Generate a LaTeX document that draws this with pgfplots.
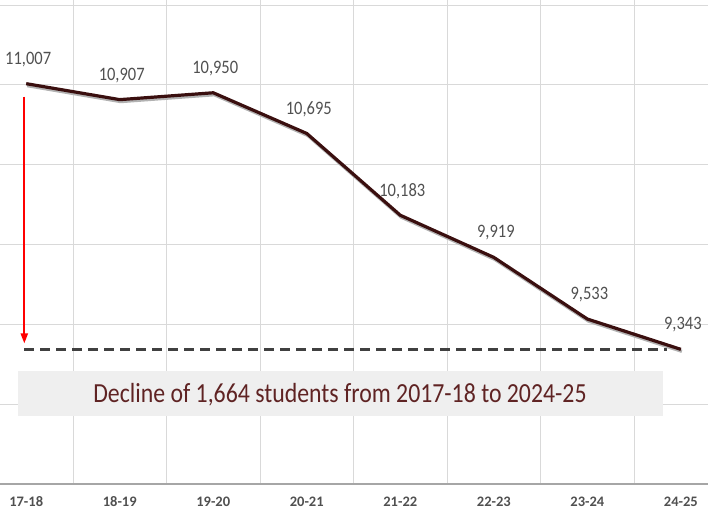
\documentclass[border=0pt]{standalone}
\usepackage{pgfplots}
\pgfplotsset{compat=1.18}
\usepackage{graphicx}
\usepackage{fontspec}
\setmainfont{Carlito}
\usetikzlibrary{arrows.meta}
\definecolor{gridc}{HTML}{D9D9D9}
\definecolor{axc}{HTML}{A6A6A6}
\definecolor{linec}{HTML}{3A0F0F}
\definecolor{labc}{HTML}{505050}
\definecolor{boxc}{HTML}{EFEFEF}
\definecolor{dashc}{HTML}{404040}
\definecolor{txtc}{RGB}{95,35,35}
\pgfplotstableread{
x y lab
0 11007 11,007
1 10907 10,907
2 10950 10,950
3 10695 10,695
4 10183 10,183
5 9919 9,919
6 9533 9,533
7 9343 9,343
}\enroll
\begin{document}
\begin{tikzpicture}
\begin{axis}[name=ax,
 width=708pt, height=484pt, scale only axis,
 xmin=-0.28, xmax=7.29, ymin=8500, ymax=11531,
 axis lines*=left,
 x axis line style={draw=axc, line width=1.2pt},
 y axis line style={draw=none},
 xtick={0,...,7},
 xticklabels={17-18,18-19,19-20,20-21,21-22,22-23,23-24,24-25},
 minor xtick={0.5,1.5,...,6.5},
 ytick={8500,9000,...,11500},
 ymajorticks=false,
 major tick length=0pt, minor tick length=0pt,
 xmajorgrids=false, xminorgrids=true, ymajorgrids=true,
 grid style={gridc, line width=0.8pt},
 minor grid style={gridc, line width=0.8pt},
 xticklabel style={anchor=center, yshift=-18pt, text=labc, font=\bfseries\fontsize{14.5}{16}\selectfont},
 xticklabel={\scalebox{1}[1.1]{\tick}},
 xticklabels={17-18,18-19,19-20,20-21,21-22,22-23,23-24,24-25},
 clip=false,
]
\fill[boxc] (axis cs:-0.085,8925) rectangle (axis cs:6.806,9206);
\node[anchor=base, text=txtc, font=\fontsize{23.8}{26}\selectfont] at (axis cs:3.355,9012) {\scalebox{1}[1.16]{Decline of 1,664 students from 2017-18 to 2024-25}};
\addplot[dashc, line width=3pt, dash pattern=on 10pt off 6pt, forget plot] coordinates {(-0.02,9343) (6.85,9343)};
\addplot[red, line width=2pt, -{Triangle[length=10pt,width=7pt]}, forget plot] coordinates {(-0.02,10926) (-0.02,9380)};
\addplot[black!30, line width=3.2pt, line join=round, forget plot, transform canvas={xshift=1pt, yshift=-2pt}] table[x=x, y=y] {\enroll};
\addplot[linec, line width=3.2pt, line join=round,
  nodes near coords={\scalebox{1}[1.15]{\pgfplotspointmeta}},
  point meta=explicit symbolic,
  every node near coord/.style={anchor=center, yshift=24.5pt, xshift=2pt, text=labc, font=\fontsize{16.5}{18}\selectfont}]
  table[x=x, y=y, meta=lab] {\enroll};
\end{axis}
\pgfresetboundingbox
\useasboundingbox ([yshift=-34pt]ax.south west) rectangle (ax.north east);
\end{tikzpicture}
\end{document}
